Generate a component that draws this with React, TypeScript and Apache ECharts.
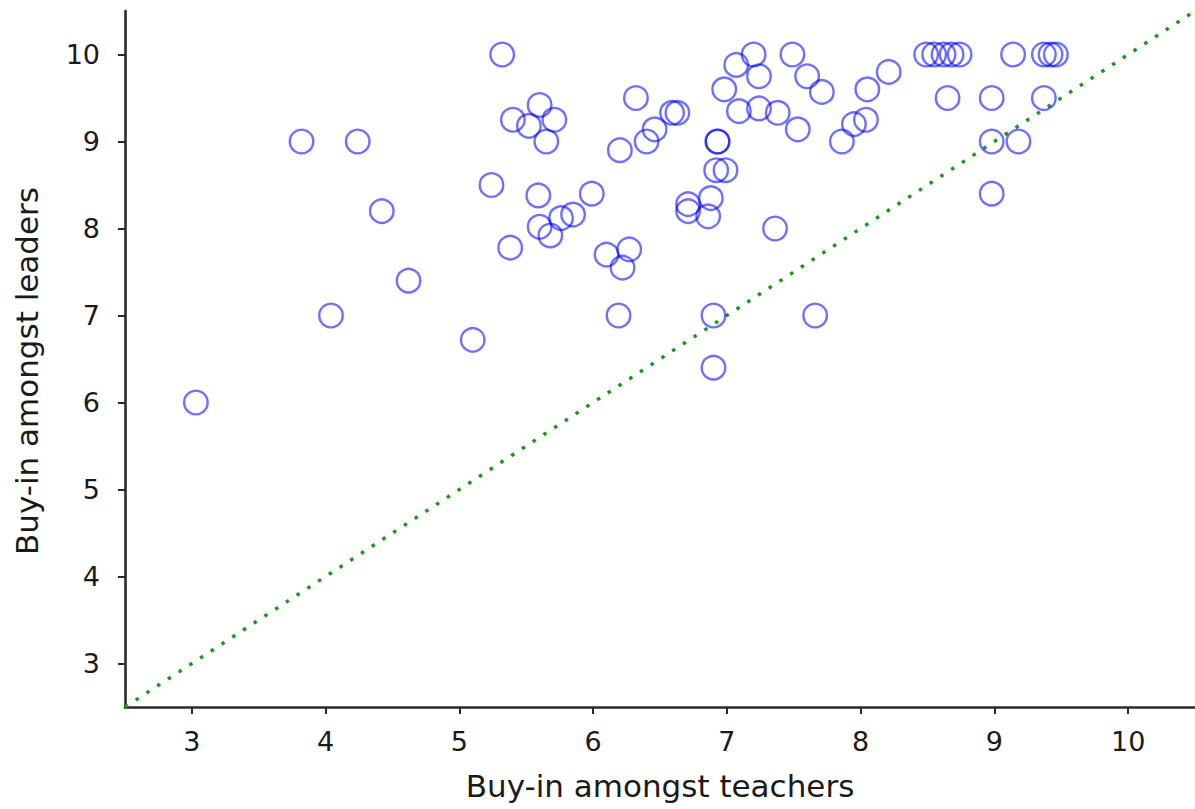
import React, { useEffect, useRef } from "react";
import * as echarts from "echarts";

// Buy-in amongst teachers (x) and amongst leaders (y), one pair per school
const teachers = [
  3.03, 3.82, 4.24, 4.42, 4.62, 4.04, 5.1, 5.32, 5.24, 5.38,
  5.4, 5.6, 5.52, 5.71, 5.65, 5.59, 5.99, 5.6, 5.68, 5.76,
  5.85, 6.1, 6.27, 6.22, 6.19, 6.32, 6.59, 6.63, 6.46, 6.4,
  6.2, 6.93, 6.93, 6.92, 6.99, 6.71, 6.88, 6.71, 6.86, 6.9,
  6.9, 7.36, 7.66, 7.2, 7.07, 7.24, 6.98, 7.09, 7.24, 7.38,
  7.53, 7.49, 7.6, 7.71, 7.86, 7.95, 8.04, 8.05, 8.21, 8.49,
  8.55, 8.62, 8.68, 8.74, 9.14, 9.37, 9.42, 9.46, 8.65, 8.98,
  9.37, 8.98, 9.18, 8.98,
];
const leaders = [
  6.0, 9.0, 9.0, 8.2, 7.4, 7.0, 6.72, 10.0, 8.5, 7.78,
  9.25, 9.42, 9.18, 9.25, 9.0, 8.38, 8.4, 8.02, 7.92, 8.12,
  8.16, 7.7, 7.76, 7.55, 7.0, 9.5, 9.33, 9.33, 9.14, 9.0,
  8.9, 9.0, 9.0, 8.67, 8.67, 8.28, 8.35, 8.2, 8.14, 7.0,
  6.4, 8.0, 7.0, 10.0, 9.88, 9.75, 9.6, 9.35, 9.38, 9.33,
  9.14, 10.0, 9.75, 9.57, 9.0, 9.2, 9.25, 9.6, 9.8, 10.0,
  10.0, 10.0, 10.0, 10.0, 10.0, 10.0, 10.0, 10.0, 9.5, 9.5,
  9.5, 9.0, 9.0, 8.4,
];
const xTicks = [3, 4, 5, 6, 7, 8, 9, 10];
const yTicks = [3, 4, 5, 6, 7, 8, 9, 10];
const axisRange = [2.5, 10.5];
const xName = "Buy-in amongst teachers";
const yName = "Buy-in amongst leaders";

export default function App() {
  const ref = useRef<HTMLDivElement>(null);
  useEffect(() => {
    if (!ref.current) return;
    const chart = echarts.init(ref.current, undefined, { renderer: "svg" });
    const font = "DejaVu Sans";
    const axisCommon = {
      type: "value" as const,
      min: axisRange[0],
      max: axisRange[1],
      nameLocation: "middle" as const,
      axisLine: { show: true, onZero: false, lineStyle: { color: "#2a2a2a", width: 2.6 } },
      splitLine: { show: false },
    };
    chart.setOption({
      animation: false,
      backgroundColor: "#ffffff",
      grid: { left: 125, top: 11, width: 1073, height: 696, containLabel: false },
      xAxis: {
        ...axisCommon,
        name: xName,
        nameGap: 63,
        nameTextStyle: { fontFamily: font, fontSize: 31, color: "#1a1a1a" },
        axisTick: { show: true, inside: false, length: 7, customValues: xTicks, lineStyle: { color: "#2a2a2a", width: 2 } },
        axisLabel: { customValues: xTicks, margin: 21, fontFamily: font, fontSize: 27, color: "#1a1a1a" },
      },
      yAxis: {
        ...axisCommon,
        name: yName,
        nameGap: 83,
        nameTextStyle: { fontFamily: font, fontSize: 31, color: "#1a1a1a", padding: [0, 24, 0, 0] },
        axisTick: { show: true, inside: false, length: 7, customValues: yTicks, lineStyle: { color: "#2a2a2a", width: 2 } },
        axisLabel: { customValues: yTicks, margin: 25, fontFamily: font, fontSize: 27, color: "#1a1a1a" },
      },
      series: [
        {
          type: "line",
          data: [
            [axisRange[0], axisRange[0]],
            [axisRange[1], axisRange[1]],
          ],
          symbol: "none",
          silent: true,
          lineStyle: { color: "#1f961f", width: 3.5, type: [3.5, 9.3] },
          z: 1,
        },
        {
          type: "scatter",
          data: teachers.map((t, i) => [t, leaders[i]]),
          symbol: "circle",
          symbolSize: 23.5,
          itemStyle: { color: "rgba(0,0,0,0)", borderColor: "rgba(0,0,255,0.7)", borderWidth: 2.4 },
          z: 2,
        },
      ],
    });
    return () => chart.dispose();
  }, []);
  return (
    <div
      ref={ref}
      style={{ position: "absolute", left: 0, top: 0, width: 1195, height: 809 }}
    />
  );
}
